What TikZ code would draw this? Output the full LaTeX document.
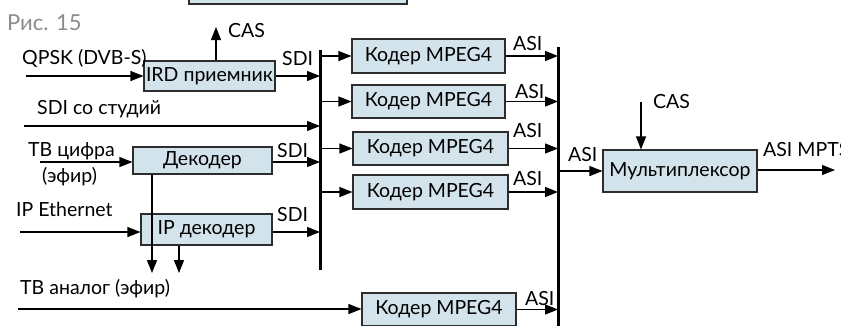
\documentclass[tikz,border=0pt]{standalone}
\usepackage{fontspec}
\setmainfont{Lato}
\usetikzlibrary{arrows.meta}
\definecolor{boxfill}{RGB}{211,227,235}
\definecolor{boxline}{RGB}{45,45,45}
\definecolor{capgray}{RGB}{140,140,140}
\begin{document}
\begin{tikzpicture}[x=1pt,y=-1pt,
 blk/.style={draw=boxline,line width=1.1pt,fill=boxfill,inner sep=0pt,font=\fontsize{19.5}{22}\selectfont},
 lbl/.style={inner sep=0pt,anchor=base west,font=\fontsize{19.5}{22}\selectfont},
 arr/.style={line width=1.2pt,-{Triangle[length=13pt,width=10pt]}},
 bus/.style={line width=3pt}]
\useasboundingbox (0,0) rectangle (841,325);
\clip (0,0) rectangle (841,325);
% caption
\node[lbl,text=capgray,font=\fontsize{22}{24}\selectfont] (cap) at (7,30) {Рис. 15};
% boxes
\node[blk,minimum width=218pt,minimum height=30pt] (topbox) at (298,-11) {};
\node[blk,minimum width=131pt,minimum height=30pt] (ird) at (209.5,76) {IRD приемник};
\node[blk,minimum width=139pt,minimum height=27pt] (dec) at (202.5,160.5) {Декодер};
\node[blk,minimum width=131pt,minimum height=31pt] (ipdec) at (206.5,229.5) {IP декодер};
\node[blk,minimum width=153pt,minimum height=34pt] (enc1) at (428.5,56) {Кодер MPEG4};
\node[blk,minimum width=153pt,minimum height=33pt] (enc2) at (428.5,101.5) {Кодер MPEG4};
\node[blk,minimum width=155pt,minimum height=33pt] (enc3) at (430.5,148.5) {Кодер MPEG4};
\node[blk,minimum width=155pt,minimum height=34pt] (enc4) at (430.5,192) {Кодер MPEG4};
\node[blk,minimum width=154pt,minimum height=33pt] (enc5) at (439,309.5) {Кодер MPEG4};
\node[blk,minimum width=154pt,minimum height=42pt] (mux) at (680,171) {Мультиплексор};
% coordinates
\coordinate (lbt) at (320,50);
\coordinate (lbb) at (320,270);
\coordinate (rbt) at (558,47);
\coordinate (rbb) at (558,326);
\coordinate (qpsk) at (26,76);
\coordinate (cas1) at (216,27);
\coordinate (sdis) at (24,126);
\coordinate (tvd) at (40,162);
\coordinate (ipe) at (20,232);
\coordinate (d1) at (152,273);
\coordinate (d2) at (179,273);
\coordinate (tva) at (18,309);
\coordinate (cas2) at (641,102);
\coordinate (out) at (835,170);
% buses
\draw[bus] (lbt) -- (lbb);
\draw[bus] (rbt) -- (rbb);
% inputs
\draw[arr] (qpsk) -- (ird.west |- qpsk);
\draw[arr] (cas1 |- ird.north) -- (cas1);
\draw[arr] (ird.east |- qpsk) -- (lbt |- qpsk);
\draw[arr] (sdis) -- (lbt |- sdis);
\draw[arr] (tvd) -- (dec.west |- tvd);
\draw[arr] (dec.east |- tvd) -- (lbt |- tvd);
\draw[arr] (ipe) -- (ipdec.west |- ipe);
\draw[arr] (ipdec.east |- ipe) -- (lbt |- ipe);
\draw[arr] (d1 |- dec.south) -- (d1);
\draw[arr] (d2 |- ipdec.south) -- (d2);
\draw[arr] (tva) -- (enc5.west |- tva);
% encoders
\foreach \e in {enc1,enc2,enc3,enc4}{
  \draw[arr] (lbt |- \e.west) -- (\e.west);
  \draw[arr] (\e.east) -- (rbt |- \e.east);
}
\draw[arr] (enc5.east) -- (rbt |- enc5.east);
\draw[arr] (rbt |- mux.west) -- (mux.west);
\draw[arr] (cas2) -- (cas2 |- mux.north);
\draw[arr] (mux.east |- out) -- (out);
% labels
\node[lbl] (lq) at (22,64) {QPSK (DVB-S)};
\node[lbl] (lc1) at (228,37) {CAS};
\node[lbl] (ls1) at (282,65) {SDI};
\node[lbl] (lss) at (37,114) {SDI со студий};
\node[lbl] (ltv) at (28,156) {ТВ цифра};
\node[lbl] (lef) at (42,182) {(эфир)};
\node[lbl] (ls2) at (277,157) {SDI};
\node[lbl] (lip) at (16,216) {IP Ethernet};
\node[lbl] (ls3) at (277,221) {SDI};
\node[lbl] (lta) at (20,294) {ТВ аналог (эфир)};
\node[lbl] (la1) at (513,50) {ASI};
\node[lbl] (la2) at (515,98) {ASI};
\node[lbl] (la3) at (513,137) {ASI};
\node[lbl] (la4) at (513,185) {ASI};
\node[lbl] (la5) at (525,305) {ASI};
\node[lbl] (la6) at (568,161) {ASI};
\node[lbl] (lc2) at (653,108) {CAS};
\node[lbl] (lmp) at (763,156) {ASI MPTS};
\end{tikzpicture}
\end{document}
